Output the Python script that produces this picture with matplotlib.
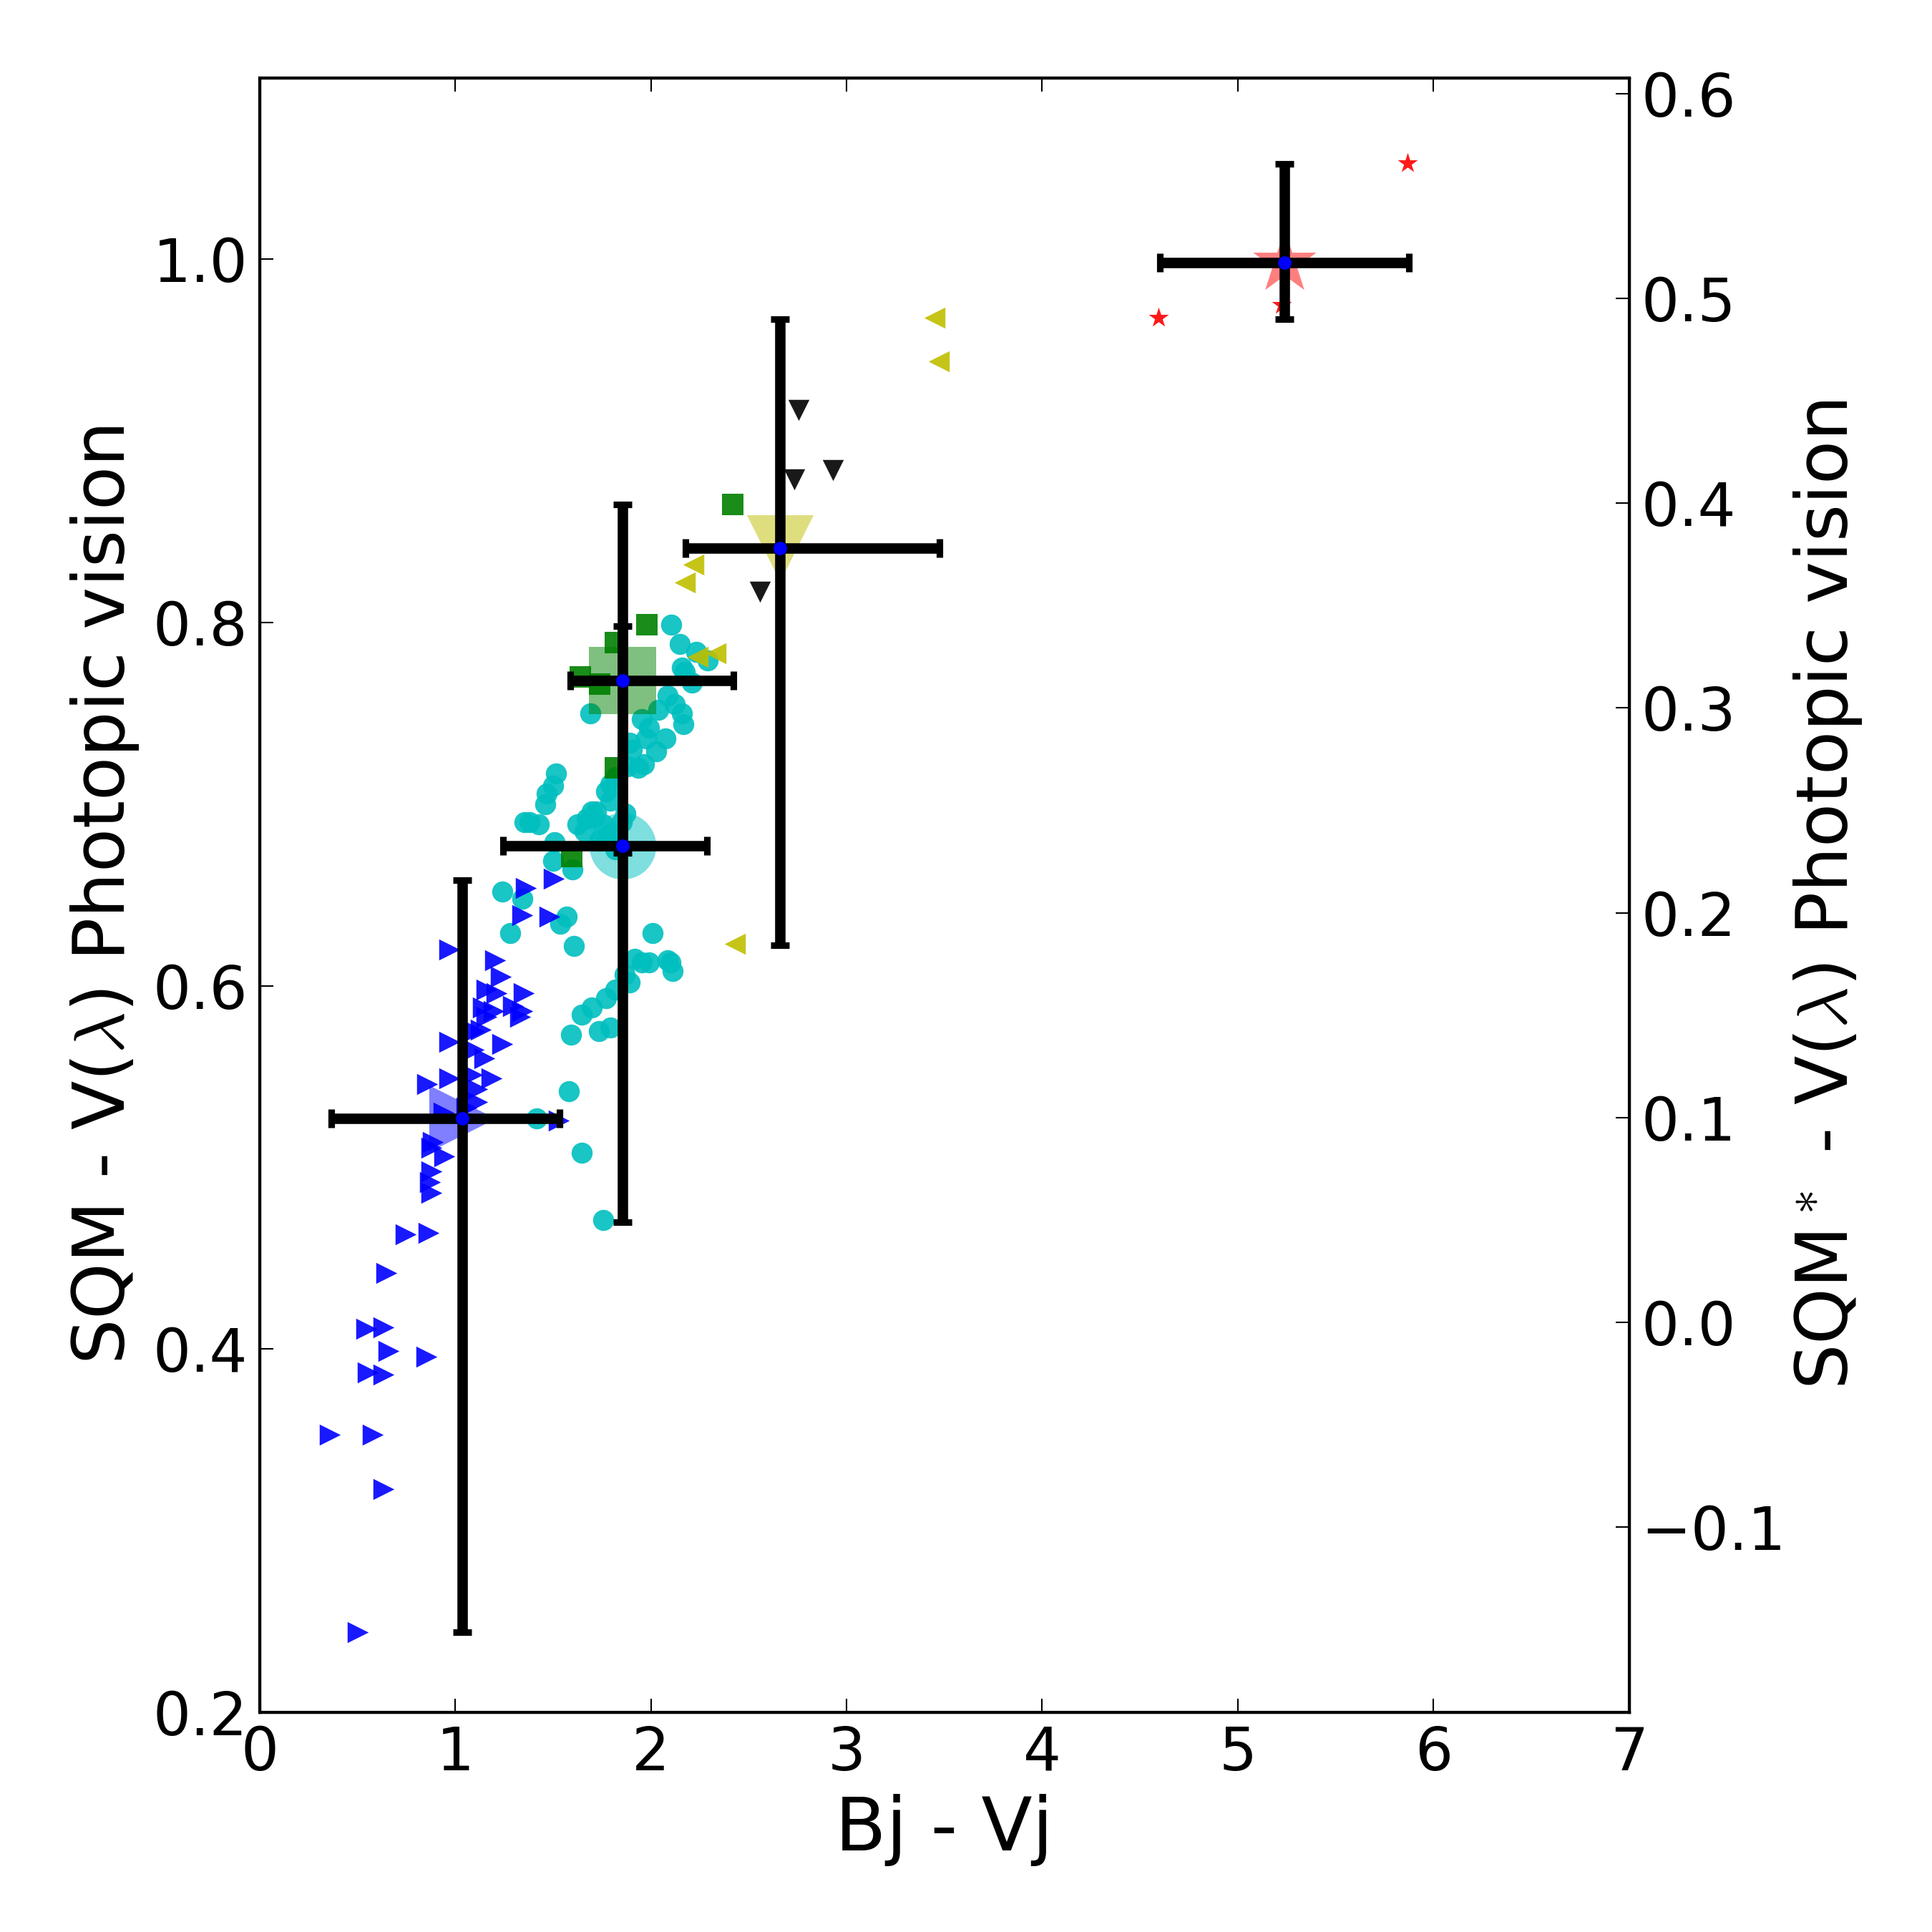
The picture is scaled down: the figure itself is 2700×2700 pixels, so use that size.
import numpy as np
import matplotlib
matplotlib.use('Agg')
import matplotlib.pyplot as plt

plt.rcParams['font.family'] = ['DejaVu Sans']
plt.rcParams['mathtext.fontset'] = 'cm'

# individual measurements, one group per colour
blue_x = [1.503, 1.362, 1.344, 1.484, 0.972, 1.206, 1.234, 1.161, 1.350, 1.143,
          1.197, 1.295, 1.344, 1.332, 1.161, 1.131, 0.972, 1.094, 1.240, 0.856,
          0.972, 1.088, 1.185, 1.112, 1.112, 0.941, 0.887, 1.530, 0.879, 0.945,
          0.879, 0.871, 0.879, 0.749, 0.863, 0.648, 0.545, 0.635, 0.659, 0.855,
          0.553, 0.635, 0.361, 0.581, 0.635, 0.504, 1.150, 1.210, 1.100, 1.060]
blue_y = [0.659, 0.654, 0.639, 0.638, 0.620, 0.614, 0.605, 0.598, 0.596, 0.588,
          0.586, 0.589, 0.586, 0.583, 0.583, 0.576, 0.569, 0.565, 0.568, 0.546,
          0.549, 0.551, 0.549, 0.543, 0.536, 0.530, 0.514, 0.526, 0.511, 0.506,
          0.498, 0.492, 0.486, 0.463, 0.464, 0.442, 0.411, 0.412, 0.399, 0.396,
          0.387, 0.386, 0.353, 0.353, 0.323, 0.244, 0.560, 0.596, 0.575, 0.533]

cyan_x = [2.105, 2.148, 2.233, 2.290, 2.173, 2.209, 2.160, 2.124, 2.166, 2.075,
          2.026, 1.965, 1.990, 1.892, 1.880, 1.795, 1.795, 1.691, 1.514, 1.502,
          1.466, 1.460, 1.380, 1.429, 1.673, 1.721, 1.758, 1.661, 1.770, 1.508,
          1.502, 1.600, 1.240, 1.344, 1.569, 1.539, 1.283, 1.606, 2.008, 1.917,
          1.990, 2.087, 2.112, 1.868, 1.819, 1.770, 1.697, 1.648, 1.734, 1.593,
          1.795, 2.099, 1.581, 1.417, 1.646, 1.756, 1.850, 1.820, 2.160, 2.087,
          2.038, 1.953, 1.904, 1.819, 1.770, 1.709, 1.624, 1.977, 1.697, 1.892,
          1.953, 1.356, 1.800, 1.870, 1.935, 1.740]
cyan_y = [0.799, 0.788, 0.784, 0.779, 0.773, 0.767, 0.750, 0.755, 0.744, 0.736,
          0.729, 0.722, 0.742, 0.734, 0.721, 0.711, 0.702, 0.750, 0.717, 0.710,
          0.706, 0.700, 0.690, 0.689, 0.692, 0.696, 0.689, 0.685, 0.682, 0.679,
          0.669, 0.664, 0.652, 0.648, 0.638, 0.634, 0.629, 0.622, 0.629, 0.615,
          0.613, 0.614, 0.608, 0.606, 0.598, 0.593, 0.588, 0.584, 0.575, 0.573,
          0.577, 0.613, 0.542, 0.527, 0.508, 0.471, 0.690, 0.675, 0.775, 0.760,
          0.752, 0.747, 0.730, 0.715, 0.707, 0.693, 0.689, 0.736, 0.696, 0.602,
          0.613, 0.690, 0.684, 0.695, 0.720, 0.680]

green_x = [2.420, 1.981, 1.817, 1.640, 1.597, 1.817, 1.737]
green_y = [0.865, 0.799, 0.789, 0.770, 0.671, 0.720, 0.766]

yellow_x = [3.449, 3.470, 2.217, 2.175, 2.332, 2.238, 2.428]
yellow_y = [0.968, 0.944, 0.832, 0.822, 0.783, 0.781, 0.623]

black_x = [2.756, 2.733, 2.931, 2.559]
black_y = [0.917, 0.879, 0.884, 0.817]

red_x = [4.593, 5.865, 5.223]
red_y = [0.968, 1.053, 0.975]

# group summaries: mean with min/max range
mean_x = [1.036, 1.857, 1.857, 2.661, 5.237]
mean_y = [0.527, 0.677, 0.768, 0.841, 0.998]
min_x = [0.367, 1.244, 1.590, 2.178, 4.602]
max_x = [1.532, 2.288, 2.422, 3.474, 5.875]
min_y = [0.244, 0.470, 0.673, 0.6225, 0.967]
max_y = [0.658, 0.798, 0.865, 0.967, 1.0525]
mean_colors = ['b', 'c', 'g', 'y', 'r']
mean_markers = ['>', 'o', 's', 'v', '*']

fig = plt.figure(figsize=(9, 9), dpi=300)
ax = fig.add_axes([0.1343, 0.1137, 0.7090, 0.8461])

small = 50
ax.scatter(cyan_x, cyan_y, s=small, c='c', marker='o', alpha=0.9, linewidths=0)
ax.scatter(green_x, green_y, s=small, c='g', marker='s', alpha=0.9, linewidths=0)
ax.scatter(blue_x, blue_y, s=small, c='b', marker='>', alpha=0.9, linewidths=0)
ax.scatter(yellow_x, yellow_y, s=small, c='y', marker='<', alpha=0.9, linewidths=0)
ax.scatter(black_x, black_y, s=small, c='k', marker='v', alpha=0.9, linewidths=0)
ax.scatter(red_x, red_y, s=small, c='r', marker='*', alpha=0.9, linewidths=0)

for i in range(len(mean_x)):
    ax.scatter(mean_x[i], mean_y[i], s=500, c=mean_colors[i], marker=mean_markers[i],
               alpha=0.5, linewidths=0)

mx = np.array(mean_x)
my = np.array(mean_y)
xerr = [mx - np.array(min_x), np.array(max_x) - mx]
yerr = [my - np.array(min_y), np.array(max_y) - my]
ax.errorbar(mx, my, xerr=xerr, yerr=yerr, fmt='o', color='b', markersize=3.5,
            ecolor='k', elinewidth=3.5, capsize=3.2, capthick=2.2, zorder=5)

ax.set_xlim(0, 7)
ax.set_ylim(0.2, 1.1)
ax.set_xticks(range(0, 8))
ax.set_yticks([0.2, 0.4, 0.6, 0.8, 1.0])
ax.tick_params(direction='in', length=4.5, width=0.5, labelsize=20, pad=4, top=True)
for sp in ax.spines.values():
    sp.set_linewidth(1.0)
ax.set_xlabel('Bj - Vj', fontsize=25, labelpad=4)
ax.set_ylabel(r'SQM - V($\lambda$) Photopic vision', fontsize=24, labelpad=4)

ax2 = ax.twinx()
ax2.set_ylim(-0.1905, 0.6078)
ax2.set_yticks([-0.1, 0.0, 0.1, 0.2, 0.3, 0.4, 0.5, 0.6])
ax2.tick_params(direction='in', length=4.5, width=0.5, labelsize=20, pad=4)
ax2.set_ylabel(r'SQM$^*$ - V($\lambda$) Photopic vision', fontsize=24, labelpad=2)

fig.savefig('out.png', dpi=300, facecolor='white')
